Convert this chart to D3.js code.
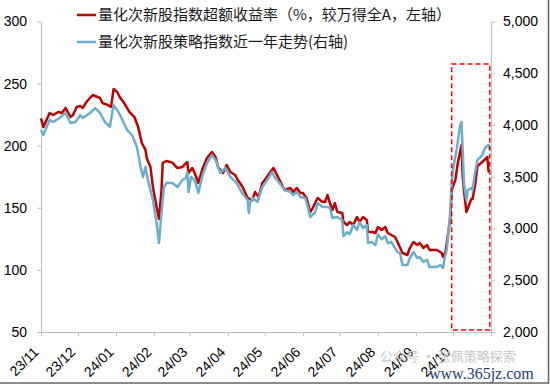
<!DOCTYPE html>
<html>
<head>
<meta charset="utf-8">
<script src="https://cdn.jsdelivr.net/npm/d3@7"></script>
<style>
  body { margin: 0; background: #ffffff; }
  svg { display: block; }
</style>
</head>
<body>
<div id="chart"></div>
<script>
// data
const redDates = [
  "2023-11-01","2023-11-03","2023-11-08","2023-11-11","2023-11-15","2023-11-18","2023-11-21","2023-11-25","2023-11-27","2023-11-30",
  "2023-12-03","2023-12-05","2023-12-08","2023-12-13","2023-12-17","2023-12-19","2023-12-21","2023-12-25","2023-12-28","2023-12-30",
  "2024-01-02","2024-01-04","2024-01-07","2024-01-10","2024-01-12","2024-01-16","2024-01-19","2024-01-22","2024-01-25","2024-01-26","2024-01-29","2024-01-31",
  "2024-02-03","2024-02-05","2024-02-07","2024-02-08","2024-02-11","2024-02-14","2024-02-16","2024-02-20","2024-02-24","2024-02-28","2024-02-29",
  "2024-03-03","2024-03-05","2024-03-08","2024-03-11","2024-03-15","2024-03-19","2024-03-22","2024-03-24","2024-03-28","2024-03-31",
  "2024-04-03","2024-04-07","2024-04-09","2024-04-13","2024-04-17","2024-04-21","2024-04-23","2024-04-26","2024-04-29",
  "2024-05-01","2024-05-05","2024-05-08","2024-05-11","2024-05-13","2024-05-17","2024-05-22","2024-05-24","2024-05-27","2024-05-30",
  "2024-06-01","2024-06-04","2024-06-07","2024-06-09","2024-06-13","2024-06-17","2024-06-19","2024-06-21","2024-06-23","2024-06-25","2024-06-27","2024-06-29",
  "2024-07-03","2024-07-04","2024-07-07","2024-07-09","2024-07-12","2024-07-15","2024-07-17","2024-07-20","2024-07-23","2024-07-24","2024-07-27","2024-07-30",
  "2024-08-01","2024-08-04","2024-08-07","2024-08-09","2024-08-12","2024-08-15","2024-08-17","2024-08-21","2024-08-25","2024-08-27","2024-08-30",
  "2024-09-02","2024-09-04","2024-09-07","2024-09-10","2024-09-12","2024-09-18","2024-09-22","2024-09-23","2024-09-25","2024-09-26","2024-09-29","2024-09-30",
  "2024-10-03","2024-10-05","2024-10-08","2024-10-09","2024-10-10","2024-10-12","2024-10-13","2024-10-16","2024-10-17","2024-10-19","2024-10-21","2024-10-23","2024-10-25","2024-10-29","2024-10-30","2024-10-31"
];
const redValues = [
  222, 215, 226.3, 224.7, 227.1, 226.3, 230.4, 223.1, 224.7, 231.2,
  232.0, 230.4, 235.2, 240.8, 239.2, 238.4, 234.4, 232.8, 231.2, 245.6,
  243.2, 239.2, 235.2, 230.4, 227.1, 223.1, 215.1, 202.2, 196.6, 190.1, 182.9, 166.7,
  150.6, 141.0, 164.3, 186.1, 187.7, 186.9, 186.1, 182.0, 182.9, 186.9, 178.0,
  182.0, 178.0, 170.0, 180.4, 190.1, 194.9, 190.9, 182.9, 178.0, 184.5,
  178.8, 176.4, 172.4, 166.7, 157.9, 156.2, 162.7, 158.7, 170.0,
  172.4, 178.0, 182.0, 176.4, 172.4, 164.3, 165.9, 162.7, 165.9, 161.9,
  161.9, 157.9, 146.6, 149.8, 157.9, 154.6, 154.6, 160.3, 153.8, 148.2, 153.8, 146.6,
  145.8, 138.6, 136.1, 138.6, 136.1, 142.5, 138.6, 142.5, 140.2, 130.5, 130.5, 129.7,
  134.5, 132.1, 134.5, 129.7, 128.1, 126.5, 122.5, 113.6, 112.0, 117.6, 122.5,
  120.0, 121.6, 117.6, 120.0, 116.0, 116.0, 113.6, 110.4, 114.4, 121.6, 142.5, 164.3,
  172.4, 186.1, 200.6, 174.8, 164.3, 146.6, 149.0, 157.1, 157.1, 167.5, 183.7, 185.3, 186.9, 190.9, 179.6, 178.8
];

const blueDates = [
  "2023-11-01","2023-11-03","2023-11-08","2023-11-11","2023-11-16","2023-11-21","2023-11-25","2023-11-29",
  "2023-12-03","2023-12-05","2023-12-11","2023-12-15","2023-12-19","2023-12-23","2023-12-27","2023-12-30",
  "2024-01-03","2024-01-07","2024-01-10","2024-01-14","2024-01-18","2024-01-21","2024-01-23","2024-01-25","2024-01-27","2024-01-31",
  "2024-02-03","2024-02-05","2024-02-07","2024-02-09","2024-02-11","2024-02-14","2024-02-16","2024-02-20","2024-02-24","2024-02-27","2024-02-28","2024-02-29",
  "2024-03-02","2024-03-05","2024-03-08","2024-03-11","2024-03-15","2024-03-19","2024-03-22","2024-03-26","2024-03-30",
  "2024-04-03","2024-04-08","2024-04-12","2024-04-17","2024-04-18","2024-04-19","2024-04-21","2024-04-25","2024-04-29",
  "2024-05-03","2024-05-07","2024-05-09","2024-05-13","2024-05-17","2024-05-22","2024-05-24","2024-05-27","2024-05-30",
  "2024-06-03","2024-06-05","2024-06-07","2024-06-11","2024-06-13","2024-06-17","2024-06-21","2024-06-23","2024-06-25","2024-06-29",
  "2024-07-03","2024-07-04","2024-07-07","2024-07-09","2024-07-12","2024-07-15","2024-07-17","2024-07-20","2024-07-23","2024-07-24","2024-07-27","2024-07-30",
  "2024-08-01","2024-08-04","2024-08-07","2024-08-09","2024-08-12","2024-08-17","2024-08-19","2024-08-21","2024-08-25","2024-08-27","2024-08-30",
  "2024-09-02","2024-09-04","2024-09-07","2024-09-10","2024-09-12","2024-09-18","2024-09-21","2024-09-23","2024-09-24","2024-09-26","2024-09-29","2024-09-30",
  "2024-10-01","2024-10-04","2024-10-07","2024-10-08","2024-10-09","2024-10-10","2024-10-12","2024-10-13","2024-10-16","2024-10-17","2024-10-19","2024-10-21","2024-10-25","2024-10-27","2024-10-30","2024-10-31"
];
const blueValues = [
  3952, 3903, 4048, 4029, 4068, 4116, 4019, 4029,
  4097, 4068, 4116, 4164, 4116, 4029, 3981, 4193,
  4126, 4029, 3952, 3903, 3787, 3594, 3498, 3594, 3469, 3275,
  3053, 2860, 3150, 3401, 3440, 3440, 3440, 3401, 3469, 3488, 3546, 3353,
  3498, 3469, 3343, 3498, 3633, 3710, 3662, 3536, 3585,
  3498, 3440, 3353, 3275, 3150, 3246, 3295, 3256, 3401,
  3469, 3546, 3498, 3440, 3372, 3353, 3324, 3353, 3304,
  3295, 3208, 3111, 3159, 3246, 3208, 3208, 3198, 3101, 3111,
  3082, 2926, 2964, 2945, 3034, 2985, 3063, 3005, 3034, 2860, 2869, 2840,
  2945, 2896, 2926, 2860, 2869, 2773, 2763, 2647, 2647, 2715, 2773,
  2715, 2725, 2676, 2697, 2628, 2628, 2647, 2618, 2697, 2792, 3179, 3440,
  3565, 3758, 4000, 4029, 3758, 3440, 3275, 3372, 3391, 3372, 3536, 3662, 3710, 3778, 3807, 3758
];

const leftTicks = [50, 100, 150, 200, 250, 300];
const rightTicks = [2000, 2500, 3000, 3500, 4000, 4500, 5000];
const axisDates = ["2023-11-01", "2024-11-01"];
const seriesNames = ["量化次新股指数超额收益率（%，较万得全A，左轴）", "量化次新股策略指数近一年走势(右轴)"];
const seriesColors = ["#c00000", "#6cafcc"];
const boxDates = ["2024-09-30", "2024-10-31"];
const boxRange = [2020, 4590];

const width = 550;
const height = 384;
const plot = { left: 41, right: 491, top: 21.5, bottom: 332 };
const tickFont = "'Liberation Sans', Arial, sans-serif";
const cjkFont = "'Noto Sans CJK SC', sans-serif";

const parse = d3.timeParse("%Y-%m-%d");
const fmt = d3.timeFormat("%y/%m");

const svg = d3.select("#chart")
  .append("svg")
  .attr("width", width)
  .attr("height", height)
  .style("background", "#ffffff");

// scales
const x = d3.scaleTime()
  .domain(axisDates.map(parse))
  .range([plot.left, plot.right]);

const yLeft = d3.scaleLinear()
  .domain([50, 300])
  .range([plot.bottom, plot.top]);

const yRight = d3.scaleLinear()
  .domain([2000, 5000])
  .range([plot.bottom, plot.top]);

// axes
function styleAxis(g) {
  g.selectAll("path, line").attr("stroke", "#bfbfbf");
  g.selectAll("text")
    .style("font-family", tickFont)
    .style("font-size", "14px")
    .attr("fill", "#000");
}

svg.append("g")
  .attr("transform", `translate(${plot.left},0)`)
  .call(d3.axisLeft(yLeft).tickValues(leftTicks).tickSize(4).tickSizeOuter(0).tickPadding(10))
  .call(styleAxis);

svg.append("g")
  .attr("transform", `translate(${plot.right},0)`)
  .call(d3.axisRight(yRight).tickValues(rightTicks).tickSize(4).tickSizeOuter(0).tickPadding(8)
    .tickFormat(d3.format(",")))
  .call(styleAxis);

const lastDate = parse(axisDates[1]);
const xAxis = svg.append("g")
  .attr("transform", `translate(0,${plot.bottom})`)
  .call(d3.axisBottom(x).ticks(d3.timeMonth.every(1)).tickSize(4).tickSizeOuter(0)
    .tickFormat(d => d < lastDate ? fmt(d) : ""))
  .call(styleAxis);

xAxis.selectAll("text")
  .attr("x", 0)
  .attr("y", 0)
  .attr("dy", 0)
  .attr("text-anchor", "end")
  .attr("transform", "translate(-2,21) rotate(-45)");

// lines
const redData = redDates.map((d, i) => ({ date: parse(d), value: redValues[i] }));
const blueData = blueDates.map((d, i) => ({ date: parse(d), value: blueValues[i] }));

svg.append("path")
  .datum(redData)
  .attr("fill", "none")
  .attr("stroke", seriesColors[0])
  .attr("stroke-width", 2.5)
  .attr("stroke-linejoin", "round")
  .attr("d", d3.line().x(d => x(d.date)).y(d => yLeft(d.value)));

svg.append("path")
  .datum(blueData)
  .attr("fill", "none")
  .attr("stroke", seriesColors[1])
  .attr("stroke-width", 2.5)
  .attr("stroke-linejoin", "round")
  .attr("d", d3.line().x(d => x(d.date)).y(d => yRight(d.value)));

// highlight box
svg.append("rect")
  .attr("x", x(parse(boxDates[0])))
  .attr("y", yRight(boxRange[1]))
  .attr("width", x(parse(boxDates[1])) - x(parse(boxDates[0])))
  .attr("height", yRight(boxRange[0]) - yRight(boxRange[1]))
  .attr("fill", "none")
  .attr("stroke", "#ff0000")
  .attr("stroke-width", 1.5)
  .attr("stroke-dasharray", "5,3");

// legend
const legend = svg.append("g").attr("transform", "translate(77,15)");
seriesNames.forEach((name, i) => {
  legend.append("line")
    .attr("x1", 0).attr("x2", 19)
    .attr("y1", i * 27).attr("y2", i * 27)
    .attr("stroke", seriesColors[i])
    .attr("stroke-width", 2.5);
  legend.append("text")
    .attr("x", 21)
    .attr("y", i * 27)
    .attr("dy", "0.35em")
    .style("font-family", cjkFont)
    .style("font-size", "15px")
    .attr("fill", "#1a1a1a")
    .text(name);
});

// watermark
svg.append("text")
  .attr("x", 380).attr("y", 361)
  .style("font-family", cjkFont)
  .style("font-size", "13px")
  .attr("fill", "#c8c8c8")
  .text("公众号 · 张佩策略探索");

svg.append("text")
  .attr("x", 429).attr("y", 379)
  .style("font-family", "'Liberation Serif', serif")
  .style("font-size", "16px")
  .attr("fill", "#1f3d7a")
  .text("www.365jz.com");

// frame on right and bottom
svg.append("path")
  .attr("d", `M${width - 1.5},0V${height - 1}H0`)
  .attr("fill", "none")
  .attr("stroke", "#666")
  .attr("stroke-width", 1.5);
</script>
</body>
</html>
